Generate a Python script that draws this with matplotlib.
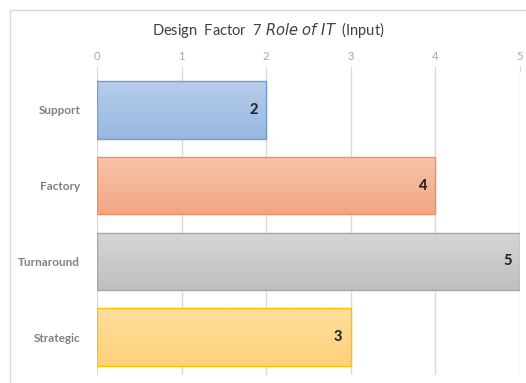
import numpy as np
from matplotlib import pyplot as plt
from matplotlib.patches import Rectangle

categories = ["Support", "Factory", "Turnaround", "Strategic"]
values = [2, 4, 5, 3]
top_colors = ["#b7cdea", "#f8c4aa", "#d6d6d6", "#fedd9d"]
bottom_colors = ["#98b8e1", "#f4a684", "#bfbfbf", "#fed27a"]
edge_colors = ["#6d9fd6", "#ef8f5c", "#a6a6a6", "#ffc000"]

fig = plt.figure(figsize=(5.26, 3.83), dpi=100)
plt.rcParams['font.family'] = ['Lato', 'DejaVu Sans']

# chart frame (cut off on right/bottom like the screenshot)
frame_top = 1 - 10/383
fig.patches.append(Rectangle((10/526, -0.1), 1.2, frame_top + 0.1,
                             transform=fig.transFigure, fill=False,
                             edgecolor="#d9d9d9", linewidth=1))

ax = fig.add_axes([97/526, 8/383, 423/526, 303/383])

h = 0.76
for i, v in enumerate(values):
    c1 = np.array(plt.matplotlib.colors.to_rgb(top_colors[i]))
    c2 = np.array(plt.matplotlib.colors.to_rgb(bottom_colors[i]))
    grad = np.linspace(0, 1, 50)[:, None, None] * (c2 - c1) + c1
    bar = ax.barh(i, v, height=h, color="none", edgecolor=edge_colors[i], linewidth=1, zorder=3)[0]
    im = ax.imshow(grad, extent=[0, v, i + h/2, i - h/2], aspect="auto", zorder=2)
    im.set_clip_path(bar)
    ax.text(v - 0.1, i, str(v), ha="right", va="center", fontsize=10.5,
            fontweight="black", color="#262626", zorder=4)

ax.set_aspect("auto")
ax.set_xlim(0, 5)
ax.set_ylim(3.5, -0.5)
ax.set_yticks(range(len(categories)))
ax.set_yticklabels(categories, fontsize=8.5, fontweight="bold", color="#808080")
ax.xaxis.tick_top()
ax.set_xticks(range(6))
ax.tick_params(axis="x", colors="#d9d9d9", labelcolor="#a6a6a6", labelsize=8, length=4, pad=3)
ax.tick_params(axis="y", length=0, pad=12)
ax.grid(axis="x", color="#d9d9d9", linewidth=1, zorder=0)
ax.set_axisbelow(True)
for s in ax.spines.values():
    s.set_visible(False)

fig.text(0.5 + 10/526/2, 1 - 30/383, "Design  Factor  7 $\\it{Role\\ of\\ IT}$  (Input)",
         ha="center", va="center", fontsize=10.5, color="#404040")

fig.savefig("out.png", dpi=100)
